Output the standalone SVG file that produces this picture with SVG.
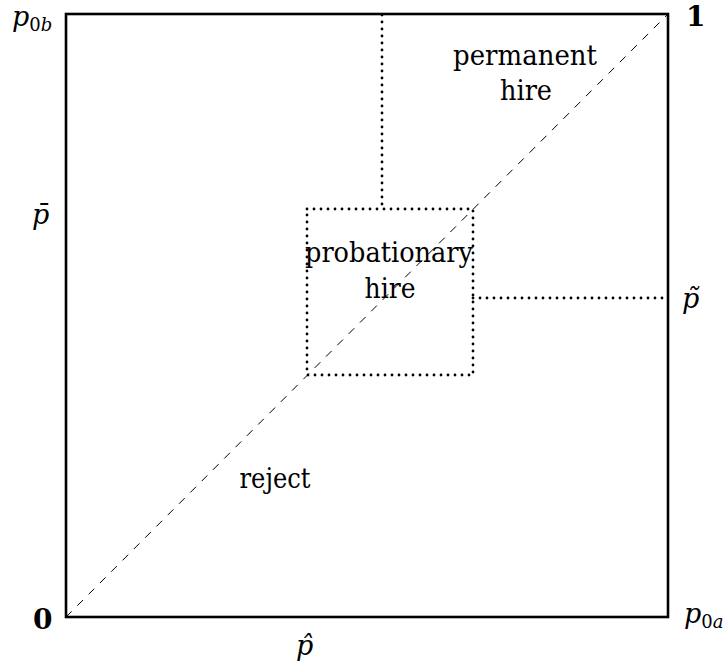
<svg xmlns="http://www.w3.org/2000/svg" width="726" height="668" viewBox="0 0 726 668">
<style>
.lbl{font-family:'DejaVu Serif',serif;font-size:27px;fill:#000;text-anchor:middle}
.math{font-family:'DejaVu Serif',serif;font-size:27px;font-style:italic;fill:#000}
.sub{font-family:'DejaVu Serif',serif;font-size:18px;fill:#000}
.bold{font-family:'DejaVu Serif',serif;font-size:28px;font-weight:bold;fill:#000}
.dot{fill:none;stroke:#000;stroke-width:2.8;stroke-dasharray:0 7;stroke-linecap:round}
.dash{fill:none;stroke:#000;stroke-width:1;stroke-dasharray:8 8}
.frame{fill:none;stroke:#000;stroke-width:2.6}
</style>
<rect width="726" height="668" fill="#fff"/>
<g id="connectors">
  <line class="dash" x1="66" y1="617" x2="668" y2="14"/>
  <line class="dot" x1="382" y1="15" x2="382" y2="209"/>
  <line class="dot" x1="473" y1="298" x2="667" y2="298"/>
</g>
<g id="frame">
  <rect class="frame" x="66" y="14" width="602" height="603"/>
</g>
<g id="probationary">
  <rect class="dot" x="307" y="209" width="166" height="166"/>
  <text class="lbl" x="389" y="262" textLength="168" lengthAdjust="spacingAndGlyphs">probationary</text>
  <text class="lbl" x="390" y="298" textLength="51" lengthAdjust="spacingAndGlyphs">hire</text>
</g>
<g id="permanent">
  <text class="lbl" x="525" y="65" textLength="144" lengthAdjust="spacingAndGlyphs">permanent</text>
  <text class="lbl" x="526" y="100" textLength="52" lengthAdjust="spacingAndGlyphs">hire</text>
</g>
<g id="reject">
  <text class="lbl" x="275" y="488" textLength="71" lengthAdjust="spacingAndGlyphs">reject</text>
</g>
<g id="axis-labels">
  <text class="math" x="12" y="26">p<tspan class="sub" font-style="normal" dy="5">0</tspan><tspan class="sub" font-style="italic">b</tspan></text>
  <text class="math" x="684" y="623">p<tspan class="sub" font-style="normal" dy="5">0</tspan><tspan class="sub" font-style="italic">a</tspan></text>
  <text class="bold" x="686" y="26">1</text>
  <text class="bold" x="33" y="629">0</text>
  <text class="math" x="32" y="224">p̄</text>
  <text class="math" x="682" y="308">p̃</text>
  <text class="math" x="296" y="655">p̂</text>
</g>
</svg>
